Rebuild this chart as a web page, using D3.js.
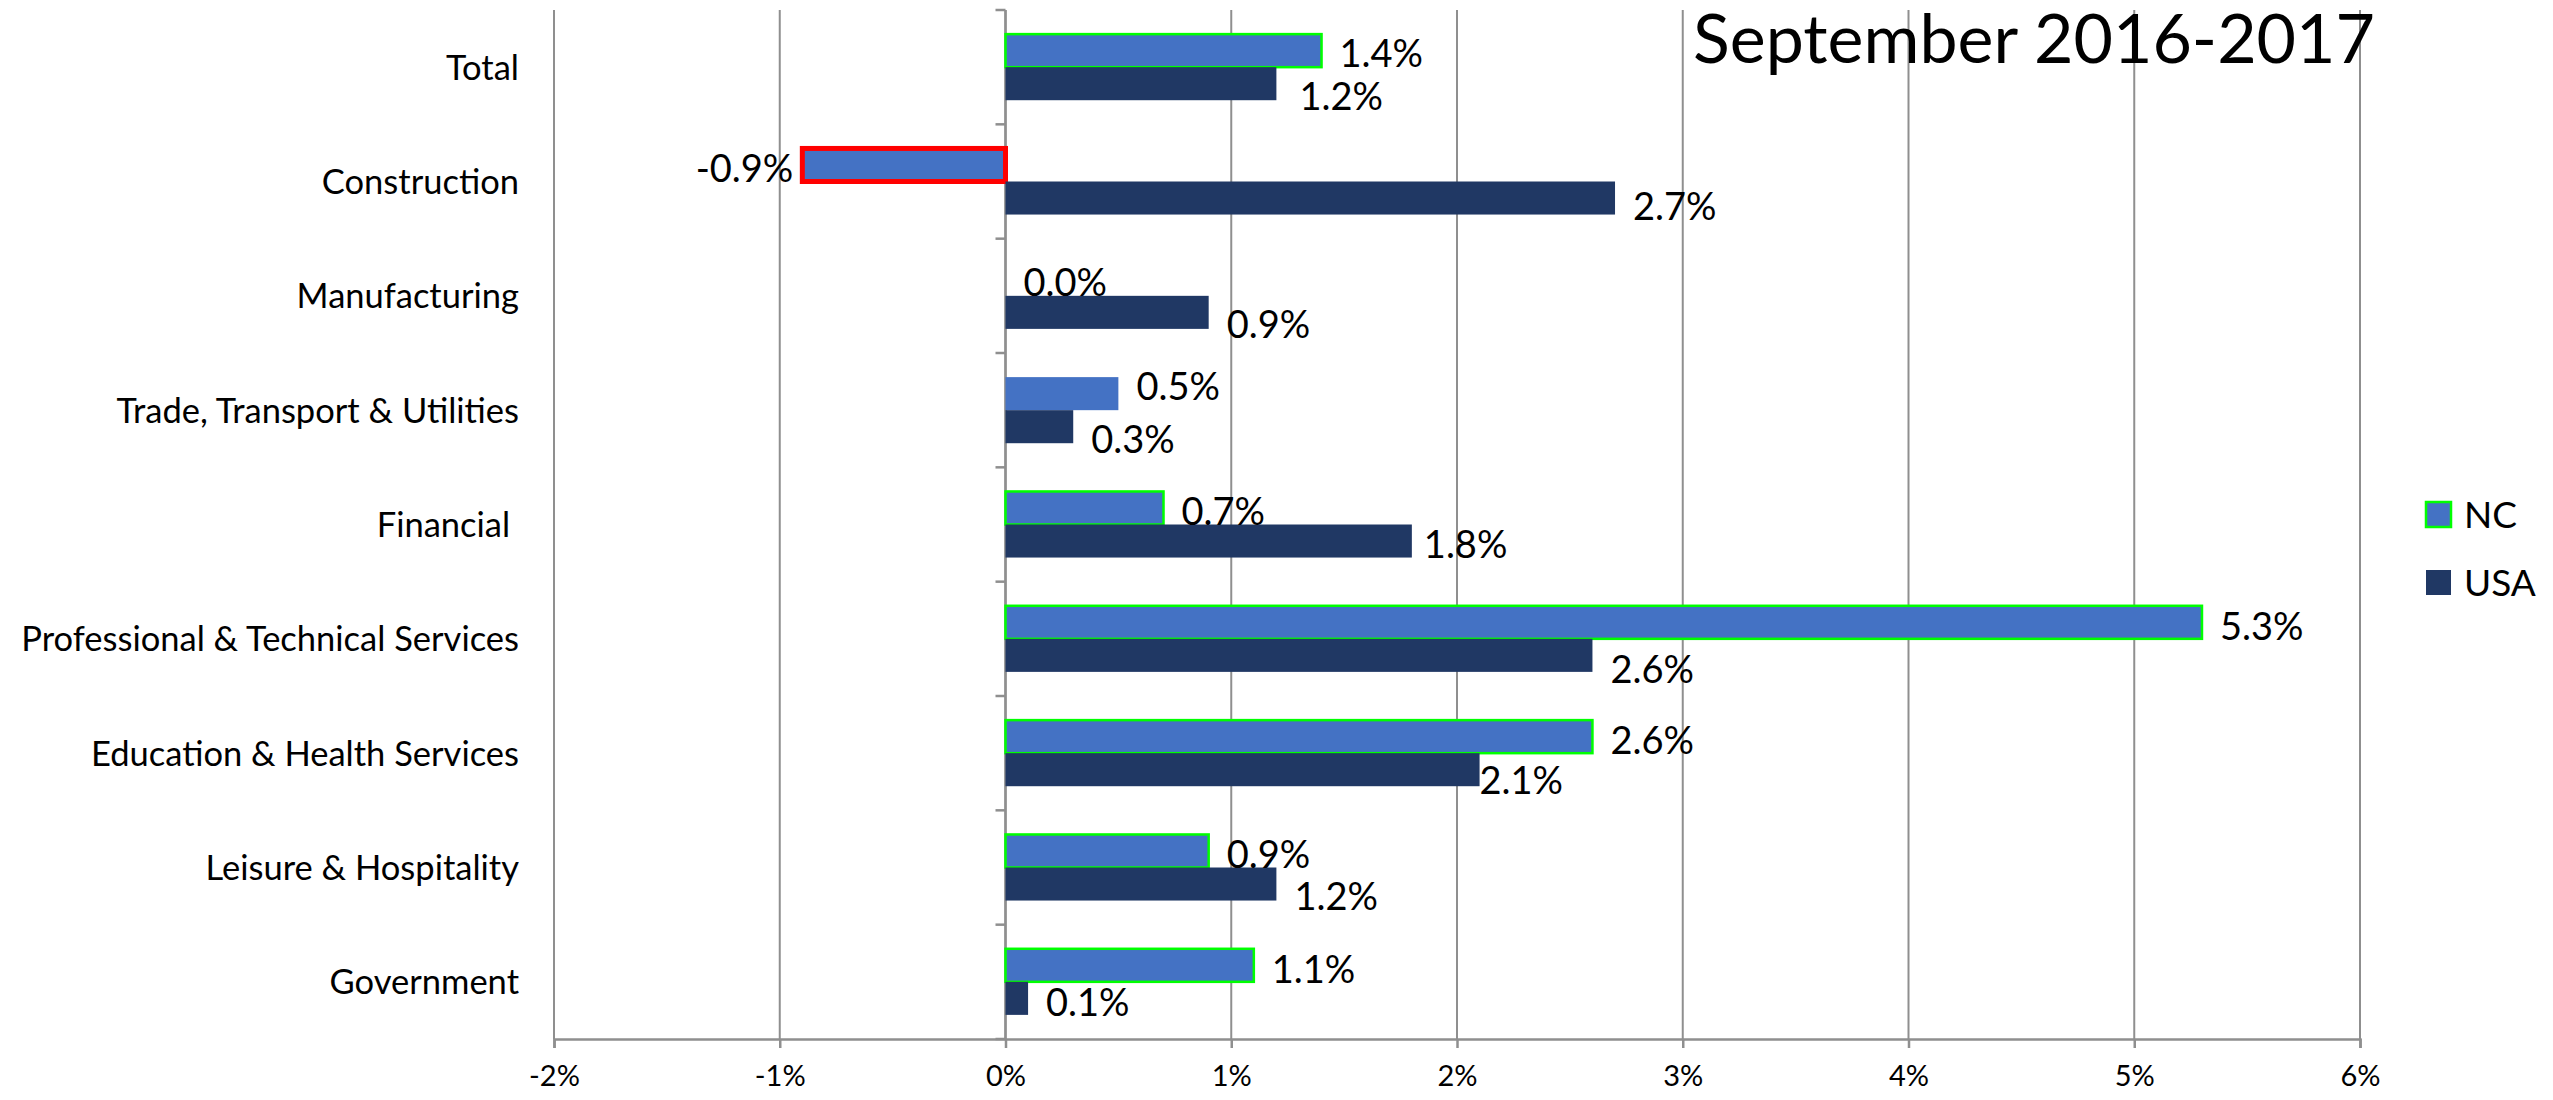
<!DOCTYPE html>
<html lang="en">
<head>
    <meta charset="UTF-8">
    <title>September 2016-2017</title>
    <script src="https://d3js.org/d3.v7.min.js"></script>
    <style>
        html, body { margin: 0; padding: 0; background: #fff; }
        svg { display: block; font-family: Lato, "Open Sans", sans-serif; }
    </style>
</head>
<body>
    <div id="chart"></div>

    <script>
        // Data (percent change, Sept 2016 -> Sept 2017)
        const categories = [
            "Total",
            "Construction",
            "Manufacturing",
            "Trade, Transport & Utilities",
            "Financial ",
            "Professional & Technical Services",
            "Education & Health Services",
            "Leisure & Hospitality",
            "Government"
        ];
        const ncValues  = [1.4, -0.9, 0.0, 0.5, 0.7, 5.3, 2.6, 0.9, 1.1];
        const usaValues = [1.2,  2.7, 0.9, 0.3, 1.8, 2.6, 2.1, 1.2, 0.1];
        const seriesNames = ["NC", "USA"];
        const xTicks = [-2, -1, 0, 1, 2, 3, 4, 5, 6];
        const title = "September 2016-2017";

        // NC bar outlines (default green, a couple overridden)
        const ncOutline = { "Construction": "#ff0000", "Trade, Transport & Utilities": null };

        // small per-label nudges [dx, dy] so labels sit like the original
        const ncNudge  = [[0, 0], [0, 0], [0, 0], [0, -10], [0, 0], [0, 1], [0, 1], [0, 0], [0, 1]];
        const usaNudge = [[5, 1], [0, -4], [0, 0], [0, 1], [-6, -9], [0, 2], [-18, -1], [0, 0], [0, -8]];

        const width = 2553, height = 1100;
        const colors = { NC: "#4472c4", USA: "#203864" };
        const gridColor = "#8f8f8f";

        const svg = d3.select("#chart")
            .append("svg")
            .attr("width", width)
            .attr("height", height);

        const x = d3.scaleLinear().domain([-2, 6]).range([554, 2360]);
        const y = d3.scaleBand().domain(categories).range([10, 1039]).padding(0);
        const inner = d3.scaleBand().domain(seriesNames)
            .range([0, y.bandwidth()]).paddingInner(0).paddingOuter(0.73);

        // vertical gridlines
        svg.append("g")
            .selectAll("line")
            .data(xTicks)
            .join("line")
            .attr("x1", d => x(d)).attr("x2", d => x(d))
            .attr("y1", y.range()[0]).attr("y2", y.range()[1])
            .attr("stroke", gridColor)
            .attr("stroke-width", 2);

        // bottom axis
        const xAxis = svg.append("g")
            .attr("transform", `translate(0,${y.range()[1]})`)
            .call(d3.axisBottom(x)
                .tickValues(xTicks)
                .tickSize(9)
                .tickPadding(17)
                .tickFormat(d => d + "%"));
        xAxis.select(".domain").attr("stroke", gridColor).attr("stroke-width", 2.5);
        xAxis.selectAll(".tick line").attr("stroke", gridColor).attr("stroke-width", 2.5);
        xAxis.selectAll(".tick text")
            .attr("font-family", "Lato")
            .attr("font-size", 29)
            .attr("fill", "#000");

        // category axis ticks on the 0% line (at band boundaries)
        const boundaries = categories.map(c => y(c)).concat([y.range()[1]]);
        svg.append("g")
            .selectAll("line")
            .data(boundaries)
            .join("line")
            .attr("x1", x(0) - 10).attr("x2", x(0))
            .attr("y1", d => d).attr("y2", d => d)
            .attr("stroke", gridColor)
            .attr("stroke-width", 2.5);
        svg.append("line")
            .attr("x1", x(0)).attr("x2", x(0))
            .attr("y1", y.range()[0]).attr("y2", y.range()[1])
            .attr("stroke", gridColor)
            .attr("stroke-width", 2.5);

        // category labels
        svg.append("g")
            .selectAll("text")
            .data(categories)
            .join("text")
            .attr("x", 519)
            .attr("y", d => y(d) + y.bandwidth() / 2)
            .attr("dy", "0.36em")
            .attr("text-anchor", "end")
            .attr("font-size", 34.5)
            .attr("fill", "#000")
            .style("white-space", "pre")
            .text(d => d);

        // bars
        const rows = categories.map((c, i) => ({ cat: c, i, NC: ncValues[i], USA: usaValues[i] }));
        const barData = [];
        rows.forEach(r => seriesNames.forEach(s => barData.push({ cat: r.cat, i: r.i, series: s, value: r[s] })));

        const bars = svg.append("g");
        bars.selectAll("rect")
            .data(barData)
            .join("rect")
            .attr("x", d => x(Math.min(0, d.value)))
            .attr("y", d => y(d.cat) + inner(d.series))
            .attr("width", d => Math.abs(x(d.value) - x(0)))
            .attr("height", inner.bandwidth())
            .attr("fill", d => colors[d.series])
            .attr("stroke", d => {
                if (d.series !== "NC" || d.value === 0) return "none";
                if (d.cat in ncOutline) return ncOutline[d.cat] || "none";
                return "#00ff00";
            })
            .attr("stroke-width", d => (ncOutline[d.cat] === "#ff0000" && d.series === "NC") ? 5 : 2.5);

        // data labels
        const baseDy = { NC: 3, USA: 12 };
        svg.append("g")
            .selectAll("text")
            .data(barData)
            .join("text")
            .attr("x", d => {
                const n = (d.series === "NC" ? ncNudge : usaNudge)[d.i];
                return d.value < 0 ? x(d.value) - 9 + n[0] : x(d.value) + 18 + n[0];
            })
            .attr("y", d => {
                const n = (d.series === "NC" ? ncNudge : usaNudge)[d.i];
                return y(d.cat) + inner(d.series) + inner.bandwidth() / 2 + baseDy[d.series] + n[1];
            })
            .attr("dy", "0.36em")
            .attr("text-anchor", d => d.value < 0 ? "end" : "start")
            .attr("font-size", 38)
            .attr("fill", "#000")
            .text(d => d.value.toFixed(1) + "%");

        // title
        svg.append("text")
            .attr("x", 2034)
            .attr("y", 63)
            .attr("text-anchor", "middle")
            .attr("font-size", 68)
            .attr("fill", "#000")
            .text(title);

        // legend
        const legend = svg.append("g")
            .selectAll("g")
            .data(seriesNames)
            .join("g")
            .attr("transform", (d, i) => `translate(2426,${502 + i * 68})`);
        legend.append("rect")
            .attr("width", 25).attr("height", 25)
            .attr("fill", d => colors[d])
            .attr("stroke", d => d === "NC" ? "#00ff00" : "none")
            .attr("stroke-width", 2.5);
        legend.append("text")
            .attr("x", 38)
            .attr("y", 12.5)
            .attr("dy", "0.36em")
            .attr("font-size", 37)
            .attr("fill", "#000")
            .text(d => d);
    </script>
</body>
</html>
